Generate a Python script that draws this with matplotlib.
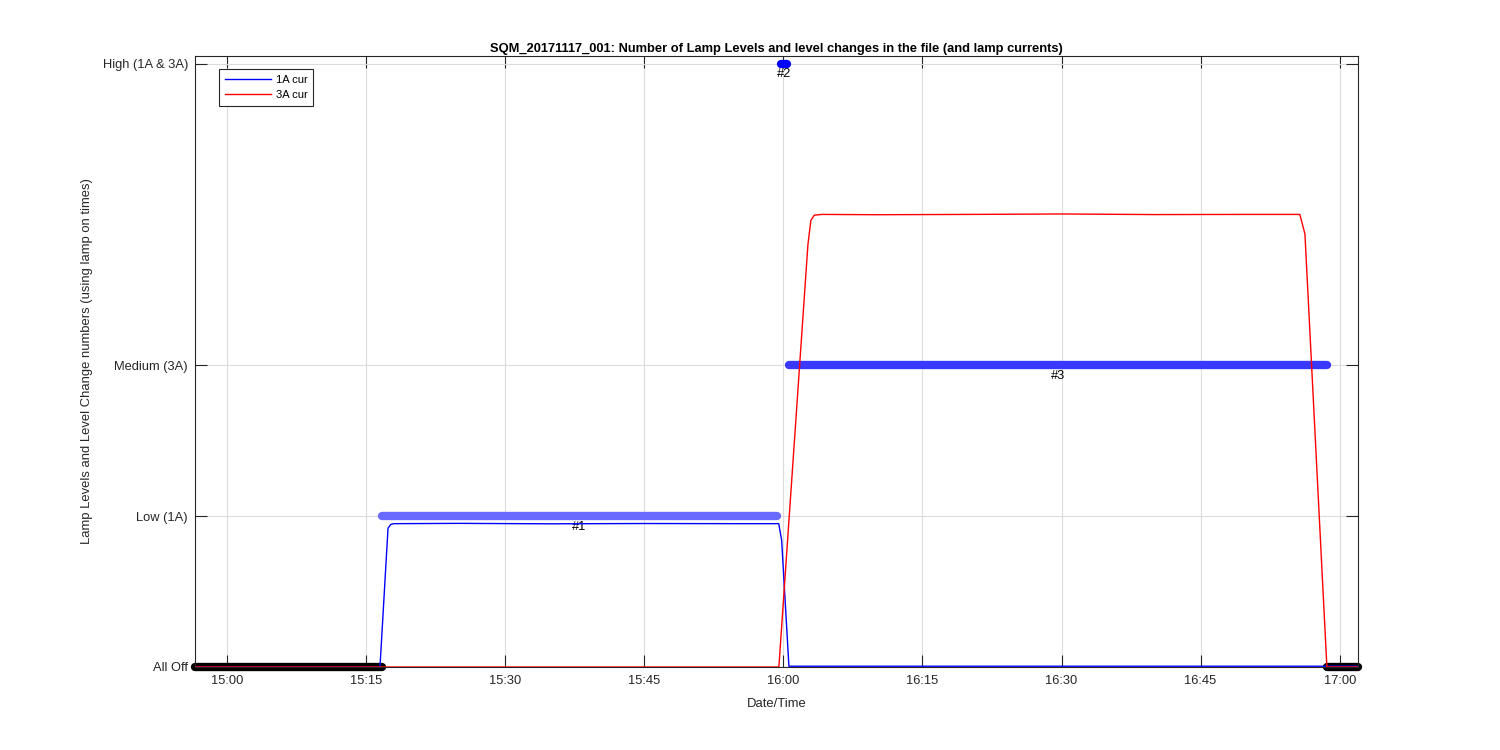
"""SQM lamp levels chart - level segments and lamp currents"""
import matplotlib
matplotlib.use('Agg')
import matplotlib.pyplot as plt
import matplotlib.dates as mdates
import pandas as pd

plt.rcParams['font.family'] = ['Liberation Sans', 'DejaVu Sans']

DAY = '2017-11-17 '

# lamp current traces (1A and 3A), level units
cur1a_times = ['14:56:33', '15:16:30', '15:17:22', '15:17:40', '15:18:00', '15:25:00',
               '15:35:00', '15:45:00', '15:55:00', '15:59:30', '15:59:49', '16:00:36',
               '16:10:00', '16:30:00', '16:50:00', '17:01:58']
cur1a_vals = [0.0, 0.0, 0.92, 0.945, 0.95, 0.952, 0.949, 0.951, 0.95, 0.95, 0.84, 0.005,
              0.005, 0.005, 0.005, 0.005]

cur3a_times = ['14:56:33', '15:59:31', '16:02:39', '16:02:58', '16:03:20', '16:04:10',
               '16:10:00', '16:20:00', '16:30:00', '16:40:00', '16:50:00', '16:55:42',
               '16:56:15', '16:58:37', '17:01:58']
cur3a_vals = [0.0, 0.0, 2.8, 2.96, 2.995, 3.0, 2.998, 3.0, 3.003, 2.999, 3.0, 3.0,
              2.87, 0.0, 0.0]

# lamp level segments: (start, end, level, colour, label)
seg_start = ['14:56:33', '16:58:37', '15:16:43', '15:59:44', '16:00:36']
seg_end = ['15:16:43', '17:01:58', '15:59:20', '16:00:23', '16:58:37']
seg_level = [0, 0, 1, 4, 2]
seg_color = ['black', 'black', '#6a6aff', '#0000ff', '#3838ff']
seg_label = ['', '', '#1', '#2', '#3']

level_ticks = [0, 1, 2, 4]
level_names = ['All Off', 'Low (1A)', 'Medium (3A)', 'High (1A & 3A)']


def ts(values):
    return pd.to_datetime([DAY + v for v in values])


fig = plt.figure(figsize=(15, 7.5), dpi=100)
ax = fig.add_axes([0.13, 0.1107, 0.7753, 0.8146])

for s, e, lvl, col, lab in zip(seg_start, seg_end, seg_level, seg_color, seg_label):
    t = ts([s, e])
    ax.plot(t, [lvl, lvl], color=col, linewidth=6, solid_capstyle='round',
            clip_on=False, zorder=2)
    if lab:
        mid = t[0] + (t[1] - t[0]) / 2
        ax.annotate(lab, (mid, lvl), xytext=(0, -3.5), textcoords='offset points',
                    ha='center', va='top', fontsize=9.3, color='black')

ax.plot(ts(cur1a_times), cur1a_vals, color='blue', linewidth=1, label='1A cur', zorder=3)
ax.plot(ts(cur3a_times), cur3a_vals, color='red', linewidth=1, label='3A cur', zorder=3)

ax.set_xlim(ts(['14:56:33'])[0], ts(['17:01:58'])[0])
ax.set_ylim(0, 4.05)
ax.set_yticks(level_ticks)
ax.set_yticklabels(level_names)
ax.xaxis.set_major_locator(mdates.MinuteLocator(byminute=[0, 15, 30, 45]))
ax.xaxis.set_major_formatter(mdates.DateFormatter('%H:%M'))

ax.grid(True, color='#dcdcdc', linewidth=0.8)
ax.set_axisbelow(True)
ax.tick_params(direction='in', length=8.5, width=0.8, top=True, right=True,
               labelsize=9.3, colors='#262626')
ax.tick_params(axis='x', pad=6)
ax.tick_params(axis='y', pad=5)
for sp in ax.spines.values():
    sp.set_color('#262626')
    sp.set_linewidth(0.8)

ax.set_title('SQM_20171117_001: Number of Lamp Levels and level changes in the file (and lamp currents)',
             fontsize=9.3, fontweight='bold', color='black', pad=3)
ax.set_xlabel('Date/Time', fontsize=9.4, color='#262626', labelpad=8)
ax.set_ylabel('Lamp Levels and Level Change numbers (using lamp on times)', fontsize=9.4,
              color='#262626', labelpad=7)

leg = ax.legend(loc='upper left', bbox_to_anchor=(0.0206, 0.9787), borderaxespad=0,
                fontsize=8, handlelength=4.1, handletextpad=0.45, fancybox=False,
                framealpha=1, edgecolor='#262626', borderpad=0.55, labelspacing=0.4)
leg.get_frame().set_linewidth(0.8)

fig.savefig('out.png', dpi=100)
